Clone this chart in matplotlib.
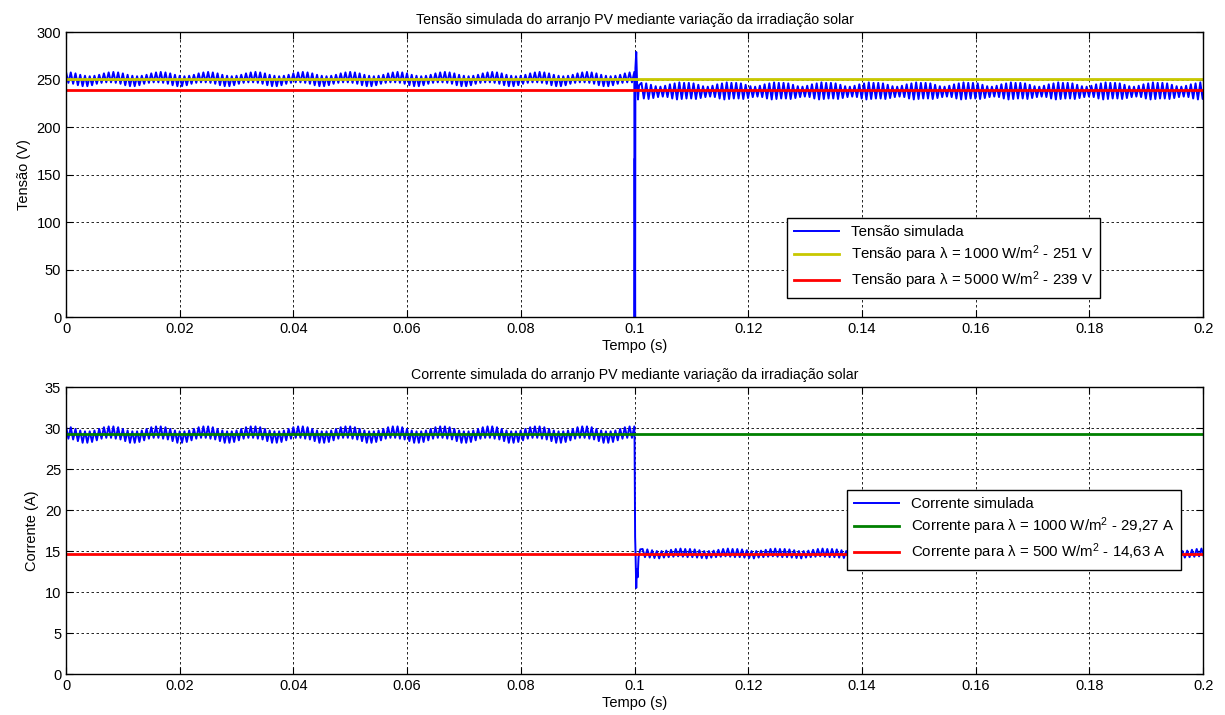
import numpy as np
import matplotlib
matplotlib.use('Agg')
import matplotlib.pyplot as plt

# fonts: narrow sans for axes text, regular sans for legends
plt.rcParams['font.family'] = ['Liberation Sans Narrow', 'Liberation Sans', 'DejaVu Sans']
plt.rcParams['mathtext.fontset'] = 'custom'
plt.rcParams['mathtext.rm'] = 'Liberation Sans'
plt.rcParams['mathtext.it'] = 'Liberation Sans'

# ---- data ----
t_step = 0.1            # irradiance change (s)
t_end = 0.2
beat_period = 0.00833   # slow envelope of the ripple (s), 10 spikes per beat

# voltage (V)
v_mean_before = 250.5
v_mean_after = 238.5
v_ref_1000 = 251
v_ref_500 = 239
# ripple offsets in one beat (alternating top / bottom of each spike)
v_ripple_before = [7.5, -4.0, 7.0, -5.0, 6.0, -6.5, 4.5, -7.5, 3.5, -7.5,
                   3.0, -6.5, 3.5, -5.0, 4.5, -4.0, 6.0, -3.5, 7.0, -3.5]
v_ripple_after = [8.0, -8.5, 7.5, -9.0, 6.0, -8.0, 4.5, -7.0, 4.0, -6.5,
                  5.0, -7.0, 6.5, -8.5, 7.5, -9.5, 8.5, -9.0, 8.0, -8.5]
# switching transient at t = 0.1 s
v_trans_t = [0.1000, 0.10005, 0.1001, 0.10015, 0.1003, 0.10045, 0.1006, 0.1008]
v_trans_v = [0.0, 167.0, 0.0, 262.0, 279.0, 246.0, 229.0, 244.0]

# current (A)
i_mean_before = 29.2
i_mean_after = 14.7
i_ref_1000 = 29.27
i_ref_500 = 14.63
i_ripple_before = [1.0, -0.5, 0.9, -0.6, 0.7, -0.8, 0.5, -1.0, 0.4, -1.0,
                   0.4, -0.9, 0.5, -0.7, 0.7, -0.5, 0.9, -0.4, 1.0, -0.4]
i_ripple_after = [0.55, -0.45, 0.5, -0.5, 0.4, -0.55, 0.3, -0.6, 0.3, -0.5,
                  0.35, -0.45, 0.45, -0.4, 0.55, -0.35, 0.6, -0.4, 0.55, -0.45]
i_trans_t = [0.1000, 0.1001, 0.10015, 0.10025, 0.1003, 0.1004, 0.10055, 0.1007, 0.1010]
i_trans_i = [29.0, 16.7, 15.4, 12.0, 10.5, 12.8, 11.8, 14.2, 15.2]

xticks = [0, 0.02, 0.04, 0.06, 0.08, 0.1, 0.12, 0.14, 0.16, 0.18, 0.2]
xtick_labels = ['0', '0.02', '0.04', '0.06', '0.08', '0.1', '0.12', '0.14', '0.16', '0.18', '0.2']


def build_trace(mean_b, rip_b, mean_a, rip_a, tr_t, tr_y):
    dt = beat_period / len(rip_b)
    tb = np.arange(0, t_step, dt)
    yb = mean_b + np.resize(rip_b, len(tb))
    ta = np.arange(tr_t[-1] + dt, t_end + dt, dt)
    ya = mean_a + np.resize(rip_a, len(ta))
    t = np.concatenate([tb, tr_t, ta])
    y = np.concatenate([yb, tr_y, ya])
    return t, y


t_v, v_sim = build_trace(v_mean_before, v_ripple_before, v_mean_after, v_ripple_after, v_trans_t, v_trans_v)
t_i, i_sim = build_trace(i_mean_before, i_ripple_before, i_mean_after, i_ripple_after, i_trans_t, i_trans_i)

fig = plt.figure(figsize=(12.25, 7.15), dpi=100)
ax1 = fig.add_axes([0.0539, 0.5566, 0.9282, 0.3986])
ax2 = fig.add_axes([0.0539, 0.0573, 0.9282, 0.4014])

leg_font = {'family': ['Liberation Sans', 'DejaVu Sans'], 'size': 10.8}


def style_axes(ax, ylim, yticks):
    ax.set_xlim(0, t_end)
    ax.set_ylim(*ylim)
    ax.set_xticks(xticks)
    ax.set_xticklabels(xtick_labels)
    ax.set_yticks(yticks)
    ax.tick_params(direction='in', top=True, right=True, length=5, labelsize=10.5, colors='black')
    ax.grid(True, color='black', linestyle=(0, (3, 3)), linewidth=0.6)
    for s in ax.spines.values():
        s.set_linewidth(1.0)
    ax.set_xlabel('Tempo (s)', fontsize=10.5, labelpad=2)


# top: voltage
ax1.plot(t_v, v_sim, color='#0000ff', lw=1.4, label='Tensão simulada')
ax1.plot([0, t_end], [v_ref_1000, v_ref_1000], color='#c8c800', lw=2, label='Tensão para λ = 1000 W/m$^{2}$ - 251 V')
ax1.plot([0, t_end], [v_ref_500, v_ref_500], color='#ff0000', lw=2, label='Tensão para λ = 5000 W/m$^{2}$ - 239 V')
style_axes(ax1, (0, 300), range(0, 301, 50))
ax1.set_ylabel('Tensão (V)', fontsize=10.5)
ax1.set_title('Tensão simulada do arranjo PV mediante variação da irradiação solar', fontsize=10.2, pad=6)
leg1 = ax1.legend(loc='lower left', bbox_to_anchor=(0.634, 0.067), prop=leg_font, fancybox=False,
                  edgecolor='black', framealpha=1, handlelength=3.0, labelspacing=0.3, borderpad=0.45,
                  borderaxespad=0)
leg1.get_frame().set_linewidth(1.0)

# bottom: current
ax2.plot(t_i, i_sim, color='#0000ff', lw=1.4, label='Corrente simulada')
ax2.plot([0, t_end], [i_ref_1000, i_ref_1000], color='#008000', lw=2, label='Corrente para λ = 1000 W/m$^{2}$ - 29,27 A')
ax2.plot([0, t_end], [i_ref_500, i_ref_500], color='#ff0000', lw=2, label='Corrente para λ = 500 W/m$^{2}$ - 14,63 A')
style_axes(ax2, (0, 35), range(0, 36, 5))
ax2.set_ylabel('Corrente (A)', fontsize=10.5)
ax2.set_title('Corrente simulada do arranjo PV mediante variação da irradiação solar', fontsize=10.2, pad=6)
leg2 = ax2.legend(loc='lower left', bbox_to_anchor=(0.687, 0.362), prop=leg_font, fancybox=False,
                  edgecolor='black', framealpha=1, handlelength=3.0, labelspacing=0.3, borderpad=0.45,
                  borderaxespad=0)
leg2.get_frame().set_linewidth(1.0)

fig.savefig('out.png', dpi=100)
